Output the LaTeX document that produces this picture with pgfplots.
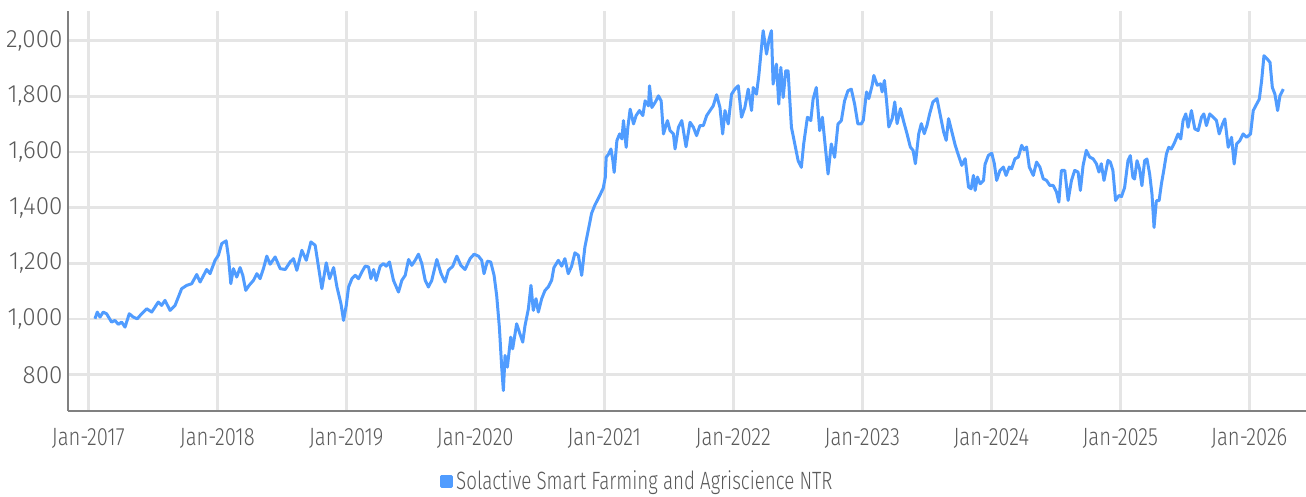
\documentclass[border=0pt]{standalone}
\usepackage{fontspec}
\setmainfont{Fira Sans}[UprightFont={* Light}, FakeStretch=0.97]
\newfontfamily\xfont{Fira Sans}[UprightFont={* Light}, FakeStretch=0.81]
\newfontfamily\lfont{Fira Sans}[UprightFont={* Light}, FakeStretch=0.75]
\usepackage{pgfplots}
\pgfplotsset{compat=1.18}
\usepackage{pgfplotstable}
\definecolor{linec}{RGB}{80,156,255}
\definecolor{gridc}{RGB}{229,229,229}
\definecolor{axc}{RGB}{128,128,128}
\definecolor{txtc}{RGB}{90,90,90}
\pgfplotstableread{
t v
0.052 1001
0.070 1025
0.091 1007
0.116 1025
0.142 1019
0.181 989
0.207 995
0.233 981
0.259 989
0.285 971
0.318 1019
0.349 1007
0.380 1001
0.414 1019
0.453 1037
0.492 1025
0.543 1061
0.569 1049
0.595 1067
0.634 1031
0.673 1049
0.724 1109
0.763 1121
0.802 1127
0.841 1160
0.867 1133
0.918 1178
0.944 1163
0.983 1211
1.009 1229
1.035 1271
1.069 1281
1.087 1223
1.105 1127
1.125 1181
1.151 1151
1.177 1185
1.198 1157
1.221 1103
1.247 1121
1.281 1139
1.307 1163
1.332 1145
1.358 1181
1.384 1226
1.410 1197
1.449 1223
1.488 1181
1.527 1178
1.565 1205
1.591 1217
1.617 1175
1.656 1247
1.690 1211
1.726 1277
1.759 1265
1.785 1187
1.811 1109
1.845 1202
1.871 1145
1.902 1185
1.928 1115
1.959 1055
1.979 995
2.000 1049
2.018 1115
2.044 1145
2.070 1157
2.095 1145
2.121 1169
2.147 1190
2.173 1187
2.191 1145
2.212 1178
2.232 1139
2.263 1190
2.289 1199
2.310 1190
2.335 1205
2.366 1139
2.405 1097
2.431 1139
2.457 1157
2.483 1214
2.508 1193
2.534 1211
2.560 1233
2.586 1199
2.612 1139
2.637 1115
2.663 1139
2.702 1214
2.735 1163
2.766 1133
2.792 1175
2.826 1190
2.857 1226
2.888 1193
2.921 1178
2.960 1217
2.991 1233
3.025 1226
3.050 1211
3.068 1163
3.094 1208
3.120 1205
3.146 1157
3.166 1085
3.187 971
3.205 827
3.218 743
3.231 869
3.249 827
3.275 935
3.290 893
3.321 983
3.342 953
3.368 917
3.386 977
3.412 1037
3.432 1121
3.450 1031
3.471 1073
3.489 1025
3.515 1073
3.541 1103
3.566 1115
3.592 1139
3.610 1185
3.644 1211
3.670 1190
3.695 1217
3.721 1163
3.747 1190
3.773 1238
3.799 1229
3.825 1157
3.850 1259
3.876 1319
3.902 1380
3.928 1410
3.961 1440
3.992 1470
4.008 1509
4.015 1581
4.034 1593
4.052 1611
4.067 1569
4.077 1527
4.098 1641
4.119 1665
4.137 1647
4.149 1713
4.170 1617
4.183 1689
4.201 1754
4.227 1701
4.247 1731
4.273 1749
4.299 1731
4.317 1784
4.343 1766
4.351 1838
4.369 1760
4.394 1778
4.420 1802
4.441 1784
4.459 1665
4.490 1713
4.510 1677
4.536 1665
4.549 1611
4.575 1689
4.601 1713
4.634 1619
4.665 1707
4.691 1689
4.716 1659
4.742 1695
4.768 1695
4.794 1731
4.820 1749
4.845 1766
4.871 1806
4.897 1760
4.918 1665
4.936 1749
4.961 1701
4.987 1808
5.013 1826
5.039 1838
5.064 1725
5.090 1760
5.116 1826
5.142 1749
5.155 1832
5.180 1808
5.198 1874
5.219 1976
5.232 2036
5.258 1952
5.278 2006
5.296 2036
5.309 1844
5.335 1916
5.353 1772
5.369 1904
5.387 1796
5.407 1892
5.425 1892
5.451 1689
5.477 1629
5.503 1569
5.528 1545
5.546 1629
5.575 1725
5.601 1713
5.619 1790
5.644 1832
5.670 1677
5.691 1725
5.709 1641
5.735 1521
5.760 1629
5.786 1581
5.812 1701
5.838 1713
5.863 1784
5.889 1820
5.915 1826
5.941 1772
5.966 1701
5.992 1701
6.008 1714
6.033 1816
6.051 1792
6.077 1840
6.090 1875
6.116 1840
6.142 1845
6.154 1816
6.172 1857
6.188 1786
6.206 1690
6.232 1720
6.252 1780
6.270 1702
6.296 1756
6.322 1708
6.347 1666
6.373 1618
6.394 1606
6.412 1558
6.438 1666
6.458 1702
6.481 1666
6.502 1696
6.523 1738
6.548 1780
6.579 1792
6.600 1744
6.631 1672
6.651 1642
6.669 1720
6.695 1672
6.721 1624
6.746 1588
6.772 1552
6.798 1576
6.824 1474
6.844 1468
6.862 1516
6.875 1462
6.893 1510
6.914 1486
6.940 1498
6.952 1556
6.978 1588
7.004 1596
7.024 1558
7.042 1498
7.068 1534
7.094 1546
7.115 1516
7.140 1546
7.158 1540
7.184 1576
7.210 1582
7.236 1624
7.254 1608
7.274 1618
7.295 1546
7.326 1516
7.351 1564
7.377 1546
7.403 1504
7.429 1498
7.454 1480
7.480 1480
7.506 1456
7.524 1420
7.544 1534
7.570 1534
7.596 1426
7.622 1498
7.647 1534
7.673 1528
7.691 1462
7.712 1552
7.737 1606
7.763 1582
7.789 1576
7.815 1558
7.835 1528
7.853 1558
7.874 1498
7.905 1570
7.923 1564
7.943 1534
7.964 1426
7.990 1444
8.010 1440
8.034 1473
8.060 1569
8.078 1587
8.098 1509
8.111 1503
8.130 1569
8.150 1539
8.168 1479
8.189 1569
8.207 1575
8.228 1521
8.246 1449
8.262 1329
8.280 1425
8.301 1425
8.319 1485
8.337 1533
8.358 1593
8.376 1617
8.396 1611
8.422 1635
8.448 1665
8.469 1647
8.487 1713
8.508 1737
8.526 1689
8.552 1749
8.578 1683
8.604 1677
8.630 1725
8.648 1737
8.668 1695
8.694 1737
8.720 1725
8.746 1713
8.767 1665
8.793 1701
8.811 1719
8.837 1617
8.863 1653
8.883 1557
8.902 1629
8.927 1641
8.953 1665
8.979 1653
9.010 1665
9.031 1749
9.057 1772
9.078 1790
9.096 1856
9.114 1946
9.140 1934
9.161 1922
9.179 1832
9.199 1808
9.220 1749
9.238 1802
9.264 1826
}\datatable
\begin{document}
\begin{tikzpicture}
\useasboundingbox (-68pt,-85pt) rectangle (1238pt,411pt);
\begin{axis}[
  at={(0pt,0pt)}, anchor=south west,
  width=1238pt, height=400pt, scale only axis,
  xmin=-0.157, xmax=9.44,
  ymin=669.6, ymax=2106.7,
  axis x line*=bottom, axis y line*=left,
  axis line style={axc, line width=1.8pt},
  x axis line style={-}, y axis line style={-},
  xtick={0,1,2,3,4,5,6,7,8,9},
  xticklabels={Jan-2017,Jan-2018,Jan-2019,Jan-2020,Jan-2021,Jan-2022,Jan-2023,Jan-2024,Jan-2025,Jan-2026},
  ytick={800,1000,1200,1400,1600,1800,2000},
  major tick length=0pt,
  grid=major,
  major grid style={gridc, line width=2.6pt},
  /pgf/number format/.cd, 1000 sep={,}, assume math mode=true,
  /pgfplots/.cd,
  yticklabel style={font=\fontsize{25}{30}\selectfont, text=txtc, xshift=-2pt},
  xticklabel style={font=\xfont\fontsize{25}{30}\selectfont, text=txtc, yshift=-14pt},
  legend style={at={(0.3005,-0.175)}, anchor=west, draw=none, fill=none,
    font=\lfont\fontsize{25}{30}\selectfont, text=txtc, inner sep=0pt,
    legend cell align=left, nodes={inner xsep=3pt}},
  legend image code/.code={\fill[linec] (0pt,-5pt) rectangle (10pt,5pt);},
  clip=false,
]
\addplot[linec, line width=3pt, line join=round] table[x=t, y=v] {\datatable};
\addlegendentry{Solactive Smart Farming and Agriscience NTR}
\end{axis}
\end{tikzpicture}
\end{document}
